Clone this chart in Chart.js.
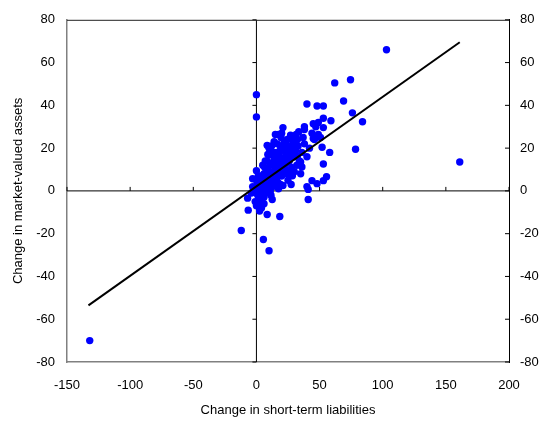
<!DOCTYPE html>
<html>
<head>
<meta charset="utf-8">
<script src="https://cdn.jsdelivr.net/npm/chart.js@4.4.1/dist/chart.umd.min.js"></script>
<style>
  html, body { margin: 0; padding: 0; background: #fff; }
  #wrap { width: 551px; height: 421px; }
</style>
</head>
<body>
<div id="wrap"><canvas id="chart"></canvas></div>
<script>
// change in short-term liabilities (x) vs change in market-valued assets (y)
const liabilities = [
  -132, 161, 103, 62, 74.5, 0, 0, 69, 40, 48, 53, 76, 84, 53, 59, 45, 49, 53, 21, 38,
  38, 33.5, 31.5, 15, 17.5, 28.5, 49, 45, 8.5, 46, 50.7, 52, 58, 78.5, 19, 24.5, 29, 32.5, 53, 35,
  36, 0, -3, 28.5, 27.5, 21, 44, 48, 53, 55.5, 40, 41, 41, -7, -6.5, 2.5, 8.5, 18.5, 12.5, 4.5,
  -12, 5.5, 10, 32.5, 47,
  1, 2, 3, 4, 5, 6, 7, 8, 9, 10, 11, 12, 13, 14, 15, 16, 17, 18, 19, 20,
  21, 22, 23, 24, 25, 26, 27, 28, 29, 30,
  0, 1, 2, 3, 4, 5, 6, 7, 8, 9, 10, 11, 12, 13, 14, 15, 16, 17, 18, 19,
  20, 21, 22, 23, 24, 25, 26, 27, 28, 30,
  0.5, 1.5, 2.5, 3.5, 5.5, 6.5, 7.5, 8.5, 9.5, 10.5, 11.5, 12.5, 13.5, 14.5, 15.5, 16.5, 17.5, 18.5, 19.5, 20.5,
  22.5, 24.5, 26.5, 31, 33, 34, 36, 38, 12, 9,
  -2, -1, -3, -4, 0, 2, 4, 6, 3, 5, 7, 10, 14, 16, 20, 23, 27, 19, 25, 30,
  32, 35, 37, 42, 44, 40
];
const assets = [
  -70, 13.5, 66, 50.5, 52, 45, 34.6, 42, 40.6, 39.7, 39.7, 36.5, 32.3, 34, 32.8, 31.4, 32, 29.6, 29.6, 30,
  28.7, 27.7, 26.4, 26.4, 26.4, 25.5, 26.4, 24.5, 21.3, 24, 25, 20.4, 18, 19.5, 19, 19.5, 21, 16.3, 12.6, 13.5,
  11.2, 9.4, 5.7, 7.1, 3, 2.5, 4.8, 3.4, 4.8, 6.6, 2, 0.7, -4, -3.4, -9, -9.4, -11, -12, -4, -5.7,
  -18.5, -22.7, -28, 24, 30,
  2, 4, 1, 6, 3, 8, 5, 2, 10, 7, 12, 4, 9, 15, 11, 6, 13, 17, 9, 14,
  19, 12, 16, 8, 21, 14, 18, 11, 23, 16,
  0, -2, -4, 3, -1, 1, -3, 3, 6, 1, 4, 0, 8, 2, 6, 16, 10, 4, 12, 21,
  7, 15, 23, 10, 18, 13, 20, 9, 16, 22,
  4, 7, 0.5, -3, 5, 11, -1, 14, 5, 17, -2, 13, 18, 3, 8, 22, 1, 15, 25, 10,
  19, 24, 17, 19, 21, 14, 18, 22, 21, 17,
  1, -5, 2, -1, -7, -6, -8, -6, 7, 12, 14, 20, 23, 18, 27, 22, 26, 3, 5, 9,
  12, 8, 25, 20, 27, 16
];
// fitted regression line end points
const fitX = [-133, 161];
const fitY = [-53.5, 69.5];

const xTicks = [-150, -100, -50, 0, 50, 100, 150, 200];
const yTicks = [-80, -60, -40, -20, 0, 20, 40, 60, 80];

const font = { family: "'Liberation Sans', Arial, sans-serif", size: 13 };

// zero axes, top frame and inward tick marks
const framePlugin = {
  id: 'frame',
  beforeDatasetsDraw(chart) {
    const { ctx, chartArea: a, scales } = chart;
    const x0 = scales.x.getPixelForValue(0);
    const y0 = scales.y.getPixelForValue(0);
    ctx.save();
    ctx.strokeStyle = '#000';
    ctx.lineWidth = 1;
    ctx.beginPath();
    ctx.moveTo(a.left, y0); ctx.lineTo(a.right, y0);
    ctx.moveTo(x0, a.top); ctx.lineTo(x0, a.bottom);
    // ticks on the zero lines
    yTicks.forEach(v => {
      const p = scales.y.getPixelForValue(v);
      ctx.moveTo(x0 - 4, p); ctx.lineTo(x0, p);
    });
    xTicks.forEach(v => {
      const p = scales.x.getPixelForValue(v);
      ctx.moveTo(p, y0 - 4); ctx.lineTo(p, y0);
    });
    // right axis ticks pointing in
    yTicks.forEach(v => {
      const p = scales.y2.getPixelForValue(v);
      ctx.moveTo(a.right - 4, p); ctx.lineTo(a.right, p);
    });
    ctx.stroke();
    // top frame
    ctx.strokeStyle = '#222';
    ctx.beginPath();
    ctx.moveTo(a.left, a.top + 0.5); ctx.lineTo(a.right, a.top + 0.5);
    ctx.stroke();
    ctx.restore();
  }
};

new Chart(document.getElementById('chart'), {
  type: 'scatter',
  data: {
    datasets: [
      {
        type: 'line',
        data: fitX.map((x, i) => ({ x: x, y: fitY[i] })),
        borderColor: '#000',
        borderWidth: 2,
        pointRadius: 0,
        fill: false,
        order: 0
      },
      {
        data: liabilities.map((x, i) => ({ x: x, y: assets[i] })),
        backgroundColor: '#0000ff',
        borderColor: '#0000ff',
        pointRadius: 3.7,
        borderWidth: 0,
        order: 1
      }
    ]
  },
  options: {
    responsive: true,
    maintainAspectRatio: false,
    animation: false,
    events: [],
    layout: { padding: { top: 13, left: 0, right: 0, bottom: 0 } },
    plugins: { legend: { display: false }, tooltip: { enabled: false } },
    scales: {
      x: {
        type: 'linear',
        min: -150, max: 200,
        afterBuildTicks: s => { s.ticks = xTicks.map(v => ({ value: v })); },
        afterFit: s => { s.height = 59; },
        grid: { display: false, drawTicks: false },
        border: { color: '#808080', width: 1.5 },
        ticks: { color: '#000', font: font, padding: 16, maxRotation: 0 },
        title: { display: true, text: 'Change in short-term liabilities', color: '#000', font: font, padding: { top: 4, bottom: 3 } }
      },
      y: {
        type: 'linear',
        position: 'left',
        min: -80, max: 80,
        afterBuildTicks: s => { s.ticks = yTicks.map(v => ({ value: v })); },
        afterFit: s => { s.width = 67; },
        grid: { display: false, drawTicks: false },
        border: { color: '#808080', width: 1.5 },
        ticks: { color: '#000', font: font, padding: 12 },
        title: { display: true, text: 'Change in market-valued assets', color: '#000', font: font, padding: { top: 11, bottom: 4 } }
      },
      y2: {
        type: 'linear',
        position: 'right',
        min: -80, max: 80,
        afterBuildTicks: s => { s.ticks = yTicks.map(v => ({ value: v })); },
        afterFit: s => { s.width = 42; },
        grid: { display: false, drawTicks: false },
        border: { color: '#000', width: 1 },
        ticks: { color: '#000', font: font, padding: 11 }
      }
    }
  },
  plugins: [framePlugin]
});
</script>
</body>
</html>
